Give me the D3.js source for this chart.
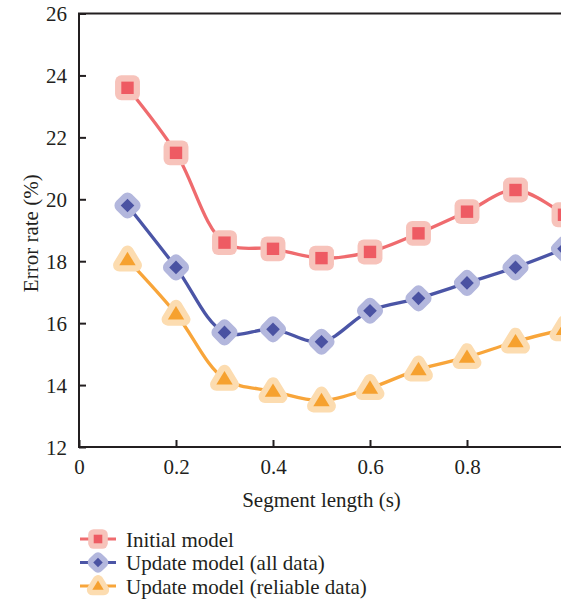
<!DOCTYPE html>
<html>
<head>
<meta charset="utf-8">
<script src="https://cdn.jsdelivr.net/npm/d3@7"></script>
</head>
<body style="margin:0">
<svg id="chart" width="561" height="603"></svg>
<script>
// Segment lengths (s)
const segmentLengths = [0.1, 0.2, 0.3, 0.4, 0.5, 0.6, 0.7, 0.8, 0.9, 1.0];

// Error rates (%) per model
const initialModel = [23.6, 21.5, 18.6, 18.4, 18.1, 18.3, 18.9, 19.6, 20.3, 19.5];
const updateAllData = [19.8, 17.8, 15.7, 15.8, 15.4, 16.4, 16.8, 17.3, 17.8, 18.4];
const updateReliableData = [18.05, 16.3, 14.2, 13.8, 13.5, 13.9, 14.5, 14.9, 15.4, 15.8];

const seriesNames = ["Initial model", "Update model (all data)", "Update model (reliable data)"];

const xTicks = [0, 0.2, 0.4, 0.6, 0.8];
const xTickLabels = ["0", "0.2", "0.4", "0.6", "0.8"];
const yTicks = [12, 14, 16, 18, 20, 22, 24, 26];

const series = [
  { name: seriesNames[0], values: initialModel, line: "#ef6b6e", mark: "#ee5b63", halo: "#f7c3bb", shape: "square" },
  { name: seriesNames[1], values: updateAllData, line: "#4b55a6", mark: "#4a52a2", halo: "#b3b7dd", shape: "diamond" },
  { name: seriesNames[2], values: updateReliableData, line: "#f8a53a", mark: "#f6a12f", halo: "#fcdcb0", shape: "triangle" }
];

const FONT = "Liberation Serif";
const ink = "#231f20";

const svg = d3.select("#chart");
const x = d3.scaleLinear().domain([0, 1]).range([79, 564]);
const y = d3.scaleLinear().domain([12, 26]).range([447, 13.5]);

// Text helper: serif face at the chart's text size
function label(sel) {
  return sel.attr("font-family", FONT).style("font-family", `"${FONT}"`).style("font-size", "21px").attr("fill", ink);
}

// Frame
svg.append("rect")
  .attr("x", x(0)).attr("y", y(26))
  .attr("width", x(1) - x(0)).attr("height", y(12) - y(26))
  .attr("fill", "none").attr("stroke", ink).attr("stroke-width", 2);

// Axes with inward ticks
const xAxis = svg.append("g").attr("transform", `translate(0,${y(12)})`)
  .call(d3.axisBottom(x).tickValues(xTicks).tickFormat((d, i) => xTickLabels[i]).tickSizeInner(-7).tickSizeOuter(0).tickPadding(12));
const yAxis = svg.append("g").attr("transform", `translate(${x(0)},0)`)
  .call(d3.axisLeft(y).tickValues(yTicks).tickFormat(d3.format("d")).tickSizeInner(-7).tickSizeOuter(0).tickPadding(12));
[xAxis, yAxis].forEach(g => {
  g.attr("font-family", FONT).attr("font-size", 21);
  g.select(".domain").remove();
  g.selectAll(".tick line").attr("stroke", ink).attr("stroke-width", 2);
  label(g.selectAll(".tick text"));
});
yAxis.selectAll(".tick text").attr("dy", "0.35em");

// Axis titles
label(svg.append("text"))
  .attr("x", (x(0) + x(1)) / 2).attr("y", 507)
  .attr("text-anchor", "middle")
  .text("Segment length (s)");
label(svg.append("text"))
  .attr("transform", `translate(38,${(y(12) + y(26)) / 2 + 3}) rotate(-90)`)
  .attr("text-anchor", "middle")
  .text("Error rate (%)");

// Marker shapes, centred on 0,0
function shapePath(shape, s) {
  if (shape === "square") return `M${-s},${-s}H${s}V${s}H${-s}Z`;
  if (shape === "diamond") { const d = s * 1.1; return `M0,${-d}L${d},0L0,${d}L${-d},0Z`; }
  const h = s * 1.2; return `M0,${-h * 1.05}L${h * 1.1},${h * 0.75}L${-h * 1.1},${h * 0.75}Z`;
}

const line = d3.line()
  .x((d, i) => x(segmentLengths[i]))
  .y(d => y(d))
  .curve(d3.curveCatmullRom.alpha(0.5));

series.forEach(s => {
  const g = svg.append("g");
  g.append("path").attr("d", line(s.values))
    .attr("fill", "none").attr("stroke", s.line).attr("stroke-width", 3.3);
  const pts = g.selectAll("g.pt").data(s.values).join("g")
    .attr("transform", (d, i) => `translate(${x(segmentLengths[i])},${y(d)})`);
  pts.append("path").attr("d", shapePath(s.shape, 6.2))
    .attr("fill", s.halo).attr("stroke", s.halo).attr("stroke-width", 12.5).attr("stroke-linejoin", "round");
  pts.append("path").attr("d", shapePath(s.shape, 6.2)).attr("fill", s.mark);
});

// Legend
const legendY = [539, 562.5, 586];
series.forEach((s, i) => {
  const g = svg.append("g").attr("transform", `translate(0,${legendY[i]})`);
  g.append("line").attr("x1", 80).attr("x2", 116).attr("y1", 0).attr("y2", 0)
    .attr("stroke", s.line).attr("stroke-width", 3);
  g.append("path").attr("transform", "translate(98,0)").attr("d", shapePath(s.shape, 4.3))
    .attr("fill", s.halo).attr("stroke", s.halo).attr("stroke-width", 11).attr("stroke-linejoin", "round");
  g.append("path").attr("transform", "translate(98,0)").attr("d", shapePath(s.shape, 4.3)).attr("fill", s.mark);
  label(g.append("text")).attr("x", 126).attr("y", 0).attr("dy", "0.36em").text(s.name);
});
</script>
</body>
</html>
